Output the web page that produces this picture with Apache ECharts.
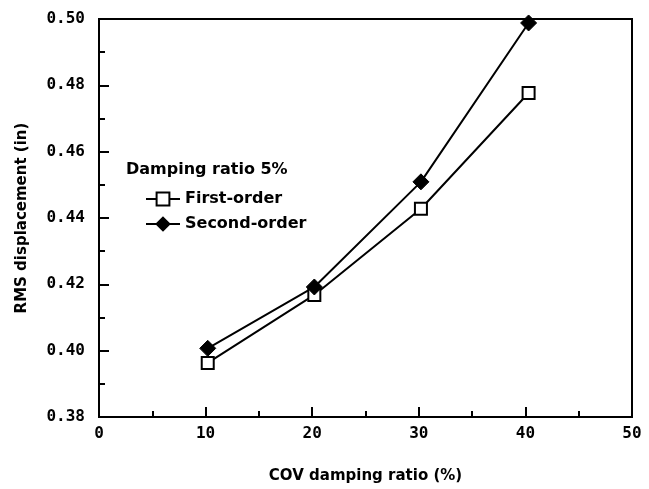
<!DOCTYPE html>
<html>
<head>
<meta charset="utf-8">
<script src="https://cdn.jsdelivr.net/npm/echarts@6/dist/echarts.min.js"></script>
<style>
  html, body { margin: 0; padding: 0; background: #fff; }
  #chart { width: 649px; height: 489px; }
</style>
</head>
<body>
<div id="chart"></div>
<script>
// COV damping ratio (%) -- points sit a hair right of the ticks in the scan
const covRatio = [10.2, 20.2, 30.2, 40.3]
// RMS displacement (in)
const firstOrder = [0.3963, 0.4168, 0.4428, 0.4777]
const secondOrder = [0.4007, 0.4192, 0.4509, 0.4988]

const font = 'DejaVu Sans'
const monoFont = 'DejaVu Sans Mono'
const ink = '#000'

const chart = echarts.init(document.getElementById('chart'))

chart.setOption({
  backgroundColor: '#ffffff',
  animation: false,
  title: {
    text: 'Damping ratio 5%',
    left: 121,
    top: 157,
    textStyle: { color: ink, fontFamily: font, fontSize: 16, fontWeight: 'bold' }
  },
  legend: {
    orient: 'vertical',
    left: 140,
    top: 186,
    itemWidth: 34,
    itemHeight: 16,
    itemGap: 9,
    textStyle: { color: ink, fontFamily: font, fontSize: 16, fontWeight: 'bold' },
    data: ['First-order', 'Second-order']
  },
  grid: {
    left: 99,
    right: 17,
    top: 19,
    bottom: 67,
    show: true,
    borderColor: ink,
    borderWidth: 2,
    backgroundColor: 'transparent'
  },
  xAxis: {
    type: 'value',
    min: 0,
    max: 50,
    interval: 10,
    name: 'COV damping ratio (%)',
    nameLocation: 'middle',
    nameGap: 52,
    nameTextStyle: { color: ink, fontFamily: font, fontSize: 15, fontWeight: 'bold' },
    axisLine: { lineStyle: { color: ink, width: 2 } },
    axisTick: { inside: true, length: 10, lineStyle: { color: ink, width: 2 } },
    minorTick: { show: true, splitNumber: 2, length: 6, lineStyle: { color: ink, width: 2 } },
    axisLabel: { color: ink, fontFamily: monoFont, fontSize: 16, fontWeight: 'bold', margin: 9 },
    splitLine: { show: false }
  },
  yAxis: {
    type: 'value',
    min: 0.38,
    max: 0.50,
    interval: 0.02,
    name: 'RMS displacement (in)',
    nameLocation: 'middle',
    nameGap: 69,
    nameTextStyle: { color: ink, fontFamily: font, fontSize: 15, fontWeight: 'bold' },
    axisLine: { show: true, lineStyle: { color: ink, width: 2 } },
    axisTick: { show: true, inside: true, length: 10, lineStyle: { color: ink, width: 2 } },
    minorTick: { show: true, splitNumber: 2, length: 6, lineStyle: { color: ink, width: 2 } },
    axisLabel: {
      color: ink, fontFamily: monoFont, fontSize: 16, fontWeight: 'bold', margin: 14,
      formatter: v => v.toFixed(2)
    },
    splitLine: { show: false }
  },
  series: [
    {
      name: 'First-order',
      type: 'line',
      data: covRatio.map((x, i) => [x, firstOrder[i]]),
      symbol: 'rect',
      symbolSize: 12,
      lineStyle: { color: ink, width: 2 },
      itemStyle: { color: '#fff', borderColor: ink, borderWidth: 2 }
    },
    {
      name: 'Second-order',
      type: 'line',
      data: covRatio.map((x, i) => [x, secondOrder[i]]),
      symbol: 'diamond',
      symbolSize: 16,
      lineStyle: { color: ink, width: 2 },
      itemStyle: { color: ink, borderColor: ink, borderWidth: 1 }
    }
  ]
})
</script>
</body>
</html>
